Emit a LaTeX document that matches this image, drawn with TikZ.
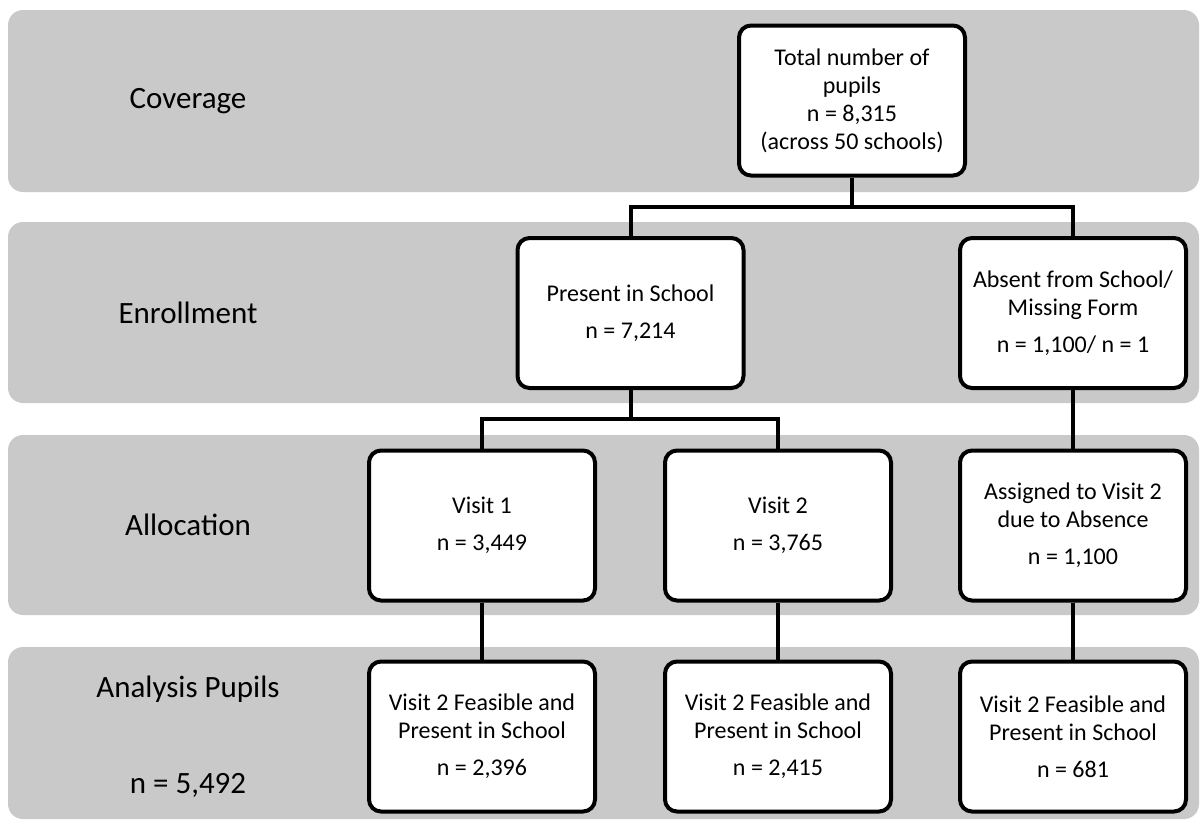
\documentclass[tikz,border=0pt]{standalone}
\usepackage{fontspec}
\setmainfont{Carlito}
\definecolor{bandgray}{RGB}{201,201,201}

\begin{document}
\begin{tikzpicture}[
  x=0.5pt, y=-0.5pt,
  band/.style={fill=bandgray, rounded corners=7.5pt},
  rowLabel/.style={font=\fontsize{15.5}{18}\selectfont, inner sep=0pt},
  flowBox/.style={
    draw=black, line width=2pt, fill=white, rounded corners=6pt,
    minimum width=113pt, minimum height=75pt, inner sep=0pt,
    align=center, font=\fontsize{12}{14}\selectfont
  },
  conn/.style={line width=2pt, black}
]
\useasboundingbox (0,0) rectangle (1201,821);

% --- Faixas de fundo ---
\fill[band] (8,10) rectangle (1199,192);
\fill[band] (8,222) rectangle (1199,403);
\fill[band] (8,435) rectangle (1199,615);
\fill[band] (8,647) rectangle (1199,819);

% --- Rótulos das faixas ---
\node[rowLabel] (Lcov) at (188,101) {Coverage};
\node[rowLabel] (Lenr) at (188,313) {Enrollment};
\node[rowLabel] (Lall) at (188,525) {Allocation};
\node[rowLabel] (Lana) at (188,689) {Analysis Pupils};
\node[rowLabel] (Ln)   at (188,785) {n = 5,492};

% --- Cobertura ---
\node[flowBox] (Total) at (852,100.5)
  {Total number of\\pupils\\n = 8,315\\(across 50 schools)};

% --- Inscrição ---
\node[flowBox] (Present) at (630.5,313) {Present in School\\[4.5pt]n = 7,214};
\node[flowBox] (Absent)  at (1073,313)
  {Absent from School/\\Missing Form\\[4.5pt]n = 1,100/ n = 1};

% --- Alocação ---
\node[flowBox] (Visit1)   at (482,525.5) {Visit 1\\[4.5pt]n = 3,449};
\node[flowBox] (Visit2)   at (778,525.5) {Visit 2\\[4.5pt]n = 3,765};
\node[flowBox] (Assigned) at (1073,525.5)
  {Assigned to Visit 2\\due to Absence\\[4.5pt]n = 1,100};

% --- Alunos analisados ---
\node[flowBox] (Feas1) at (482,736.5)
  {Visit 2 Feasible and\\Present in School\\[4.5pt]n = 2,396};
\node[flowBox] (Feas2) at (778,736.5)
  {Visit 2 Feasible and\\Present in School\\[4.5pt]n = 2,415};
\node[flowBox] (Feas3) at (1073,736.5)
  {Visit 2 Feasible and\\Present in School\\[4.5pt]n = 681};

% --- Conexões ---
\coordinate (J1) at (852,207);
\coordinate (J2) at (630.5,419);
\draw[conn] (Total) -- (J1);
\draw[conn] (Present) |- (J1) -| (Absent);
\draw[conn] (Present) -- (J2);
\draw[conn] (Visit1) |- (J2) -| (Visit2);
\draw[conn] (Absent) -- (Assigned);
\draw[conn] (Visit1) -- (Feas1);
\draw[conn] (Visit2) -- (Feas2);
\draw[conn] (Assigned) -- (Feas3);

\end{tikzpicture}
\end{document}
